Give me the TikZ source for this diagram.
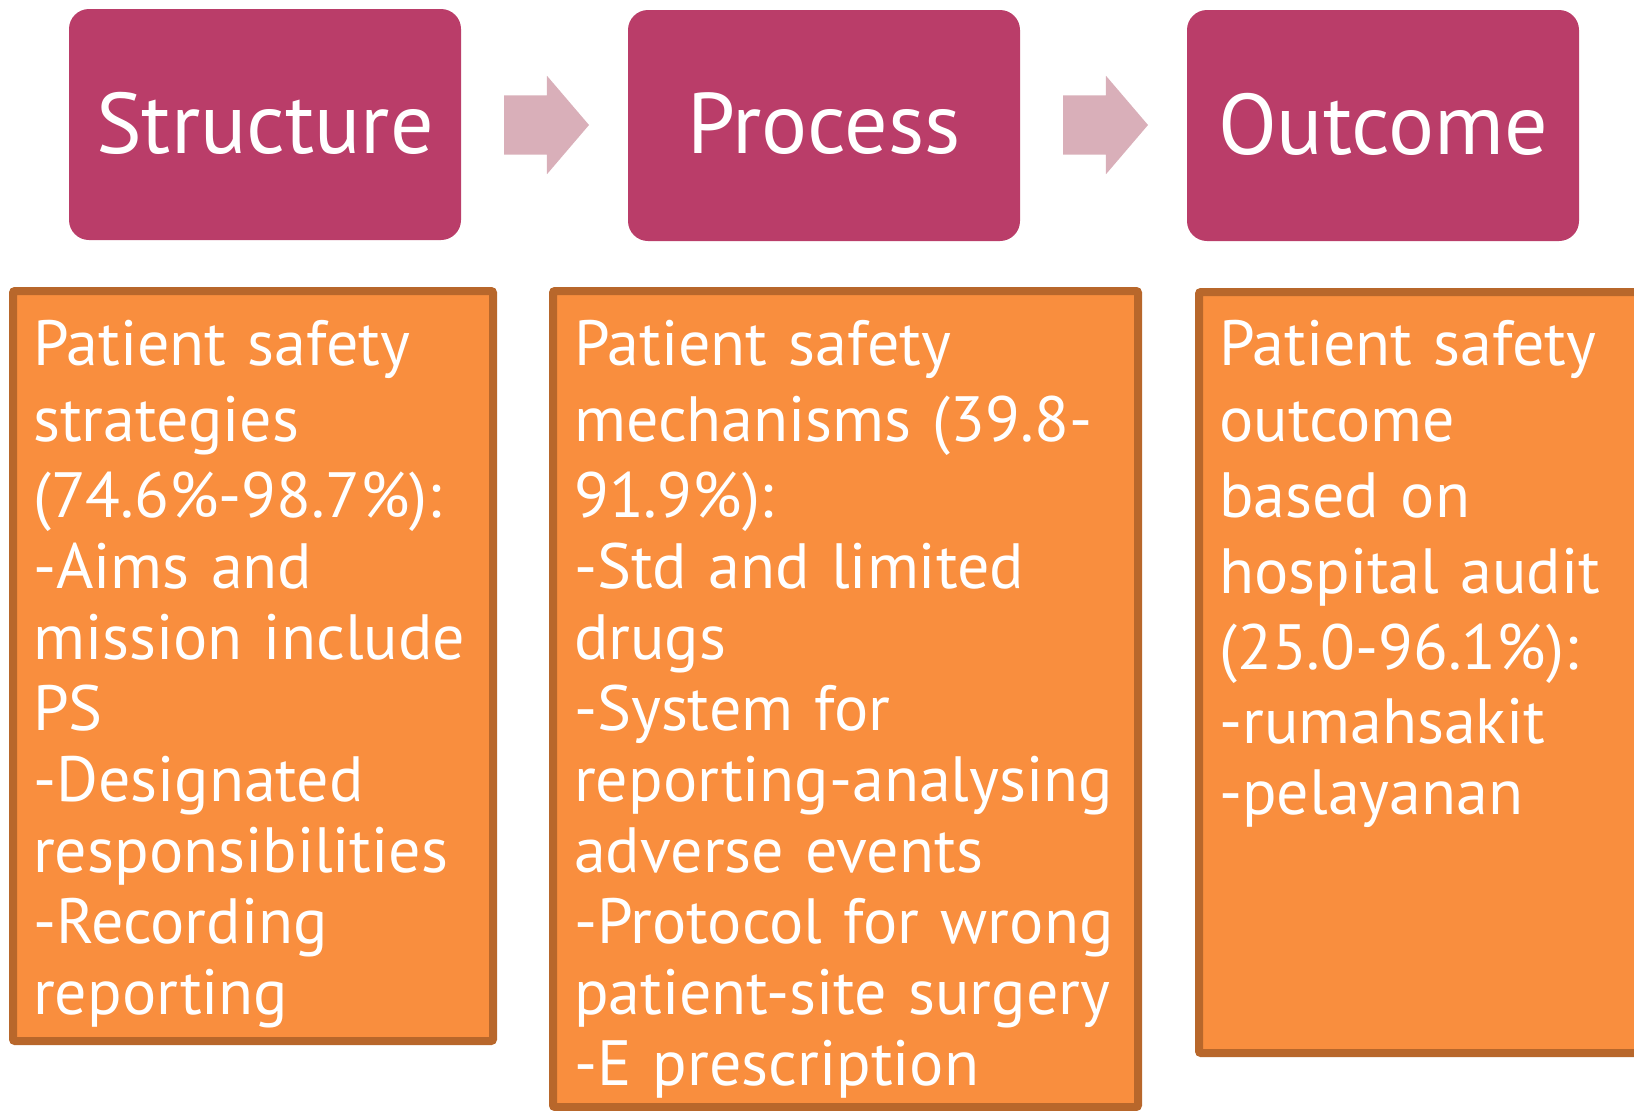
\documentclass[tikz,border=0pt]{standalone}
\usepackage{fontspec}
\setmainfont{PT Sans}
\usetikzlibrary{shapes.arrows}
\definecolor{headc}{RGB}{186,61,105}
\definecolor{arrc}{RGB}{217,175,185}
\definecolor{boxfill}{RGB}{249,142,62}
\definecolor{boxline}{RGB}{184,103,43}
\begin{document}
\begin{tikzpicture}[x=1pt,y=-1pt,
 head/.style={fill=headc, rounded corners=20pt, minimum width=392pt, minimum height=231pt, inner sep=0pt, outer sep=0pt, anchor=north west, text=white, font=\fontsize{86}{92}\selectfont},
 flow/.style={single arrow, fill=arrc, minimum height=85pt, minimum width=98pt, single arrow head extend=19.5pt, single arrow tip angle=99, inner xsep=0pt, inner ysep=29.5pt, outer sep=0pt, anchor=tail},
 detail/.style={fill=boxfill, draw=boxline, line width=8pt, rounded corners=2pt, anchor=north west, inner sep=0pt, outer sep=0pt},
 dtext/.style={text=white, font=\fontsize{64}{71}\selectfont, anchor=base west, align=left, inner sep=0pt, text width=600pt}
]
\useasboundingbox (0,0) rectangle (1634,1111);
% header boxes
\node[head] (s) at (69,9) {\raisebox{4pt}{Structure}};
\node[head] (p) at (628,10) {\raisebox{4pt}{Process}};
\node[head] (o) at (1187,10) {\raisebox{4pt}{Outcome}};
% block arrows
\node[flow] (a1) at (504,125) {};
\node[flow] (a2) at (1063,125) {};
% detail boxes
\node[detail, minimum width=480pt, minimum height=750pt] (b1) at (13,291) {};
\node[detail, minimum width=585pt, minimum height=816pt] (b2) at (553,291) {};
\node[detail, minimum width=470pt, minimum height=761pt] (b3) at (1199,292) {};
% texts
\node[dtext] (t1) at (33,365) {Patient safety\\[5pt]strategies\\[5pt](74.6\%-98.7\%):\\-Aims and\\mission include\\PS\\-Designated\\responsibilities\\-Recording\\reporting};
\node[dtext] (t2) at (574,365) {Patient safety\\[5pt]mechanisms (39.8-\\[5pt]91.9\%):\\-Std and limited\\drugs\\-System for\\reporting-analysing\\adverse events\\-Protocol for wrong\\patient-site surgery\\-E prescription};
\node[dtext] (t3) at (1219,365) {Patient safety\\[5pt]outcome\\[5pt]based on\\[5pt]hospital audit\\[5pt](25.0-96.1\%):\\[3pt]-rumahsakit\\-pelayanan};
\end{tikzpicture}
\end{document}
